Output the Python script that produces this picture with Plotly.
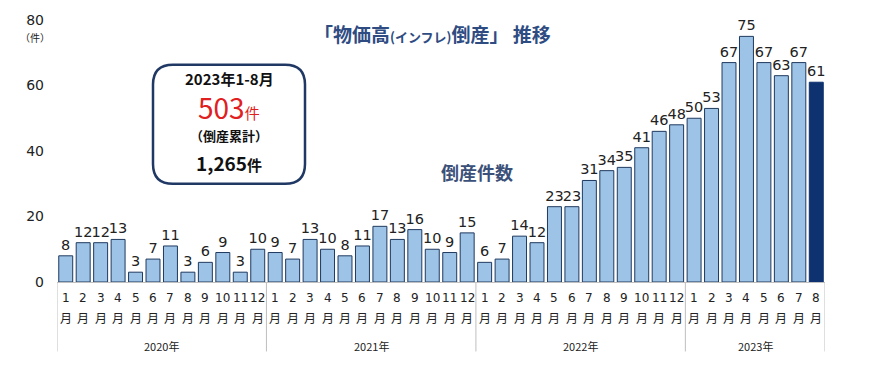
import plotly.graph_objects as go

years = ["2020年", "2021年", "2022年", "2023年"]
months_per_year = [12, 12, 12, 8]
values_2020 = [8, 12, 12, 13, 3, 7, 11, 3, 6, 9, 3, 10]
values_2021 = [9, 7, 13, 10, 8, 11, 17, 13, 16, 10, 9, 15]
values_2022 = [6, 7, 14, 12, 23, 23, 31, 34, 35, 41, 46, 48]
values_2023 = [50, 53, 67, 75, 67, 63, 67, 61]
y_ticks = [0, 20, 40, 60, 80]

values = values_2020 + values_2021 + values_2022 + values_2023
month_nums = []
for n in months_per_year:
    month_nums += list(range(1, n + 1))
xs = list(range(len(values)))

light = "#9DC3E6"
dark = "#0E3270"
colors = [light] * (len(values) - 1) + [dark]
line_cols = ["#1F3A5F"] * (len(values) - 1) + [dark]

JP = "Noto Sans CJK JP"
NUM = "DejaVu Sans, Verdana, sans-serif"


def ann(x, y, text, font, xref="paper", yref="paper"):
    return dict(x=x, y=y, xref=xref, yref=yref, text=text, showarrow=False,
                xanchor="center", yanchor="middle", font=font)


fig = go.Figure()
fig.add_trace(go.Bar(
    x=xs, y=values,
    marker=dict(color=colors, line=dict(color=line_cols, width=1)),
    width=0.8,
    text=[str(v) for v in values],
    textposition="outside",
    textfont=dict(family=NUM, size=14.5, color="#222222"),
    constraintext="none",
    cliponaxis=False,
    hoverinfo="skip",
))

annotations = []
shapes = []

# month labels
for x, m in zip(xs, month_nums):
    annotations.append(ann(x, -16 / 264, str(m), dict(family=NUM, size=12, color="#222222"), xref="x"))
    annotations.append(ann(x, -36 / 264, "月", dict(family=JP, size=12, color="#222222"), xref="x"))

# year labels and dividers
start = 0
bounds = [-0.5]
for yname, n in zip(years, months_per_year):
    mid = start + (n - 1) / 2
    annotations.append(ann(mid, -64 / 264, yname, dict(family=JP, size=11, color="#222222"), xref="x"))
    start += n
    bounds.append(start - 0.5)
for b in bounds:
    shapes.append(dict(type="line", xref="x", yref="paper", x0=b, x1=b, y0=0, y1=-70 / 264,
                       line=dict(color="#BFBFBF", width=1)))

# unit label
annotations.append(ann(-22 / 768, (282 - 36) / 264, "（件）", dict(family=JP, size=10, color="#222222")))

# title
annotations.append(ann((432 - 57) / 768, (282 - 32) / 264,
                       "<b>「物価高<span style='font-size:13px'>(インフレ)</span>倒産」 推移</b>",
                       dict(family=JP, size=19, color="#2E4C82")))

# series label
annotations.append(ann((477 - 57) / 768, (282 - 171) / 264, "<b>倒産件数</b>",
                       dict(family=JP, size=18, color="#3B5179")))

# rounded box
bx0, bx1 = (153 - 57) / 768, (305 - 57) / 768
by1, by0 = (282 - 63) / 264, (282 - 183) / 264
rx, ry = 20 / 768, 20 / 264
path = (f"M {bx0 + rx} {by1} L {bx1 - rx} {by1} Q {bx1} {by1} {bx1} {by1 - ry} "
        f"L {bx1} {by0 + ry} Q {bx1} {by0} {bx1 - rx} {by0} "
        f"L {bx0 + rx} {by0} Q {bx0} {by0} {bx0} {by0 + ry} "
        f"L {bx0} {by1 - ry} Q {bx0} {by1} {bx0 + rx} {by1} Z")
shapes.append(dict(type="path", xref="paper", yref="paper", path=path,
                   line=dict(color="#1F3864", width=2.5), fillcolor="white", layer="below"))

cx = (229 - 57) / 768
annotations.append(ann(cx, (282 - 77) / 264, "<b>2023年1-8月</b>",
                       dict(family=JP, size=15, color="#111111")))
annotations.append(ann(cx, (282 - 106) / 264, "503<span style='font-size:15px'>件</span>",
                       dict(family=JP, size=28, color="#E02020")))
annotations.append(ann(cx, (282 - 134) / 264, "<b>（倒産累計）</b>",
                       dict(family=JP, size=13, color="#111111")))
annotations.append(ann(cx, (282 - 162) / 264, "<b>1,265<span style='font-size:15px'>件</span></b>",
                       dict(family=JP, size=19, color="#111111")))

fig.update_layout(
    width=869, height=376,
    margin=dict(l=57, r=44, t=18, b=94),
    paper_bgcolor="white", plot_bgcolor="white",
    showlegend=False,
    bargap=0.2,
    xaxis=dict(range=[-0.5, len(values) - 0.5], showticklabels=False, showgrid=False,
               zeroline=False, showline=True, linecolor="#BFBFBF", linewidth=1,
               ticks="", fixedrange=True),
    yaxis=dict(range=[0, 80], tickvals=y_ticks, showgrid=False, zeroline=False,
               showline=False, ticks="", ticklabelstandoff=12,
               tickfont=dict(family=NUM, size=14, color="#222222"), fixedrange=True),
    annotations=annotations,
    shapes=shapes,
)

fig.write_html("out.html", config={"displayModeBar": False},
               post_script="document.body.style.margin='0';")
